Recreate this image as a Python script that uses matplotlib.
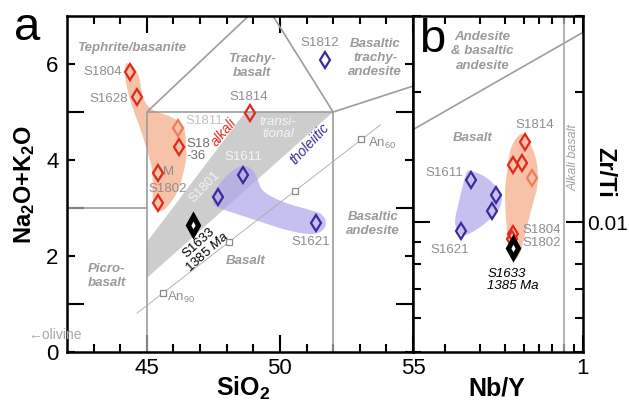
import numpy as np
import matplotlib
matplotlib.use('Agg')
import matplotlib.pyplot as plt
from matplotlib.ticker import FixedLocator, NullFormatter, FixedFormatter

plt.rcParams['font.family'] = ['Liberation Sans', 'DejaVu Sans']
plt.rcParams['mathtext.fontset'] = 'custom'
plt.rcParams['mathtext.rm'] = 'Liberation Sans'
plt.rcParams['mathtext.bf'] = 'Liberation Sans:bold'
plt.rcParams['mathtext.it'] = 'Liberation Sans:italic'

# ---------------- data: panel a (TAS) ----------------
alk_names = ['S1804', 'S1628', 'S1811', 'S18-36', 'M', 'S1802', 'S1814']
alk_sio2 = [44.37, 44.63, 46.17, 46.21, 45.42, 45.42, 48.88]
alk_total = [5.83, 5.31, 4.67, 4.27, 3.73, 3.10, 4.98]
alk_light = [False, False, True, False, False, False, False]

tho_names = ['S1611', 'S1801', 'S1621', 'S1812']
tho_sio2 = [48.62, 47.68, 51.36, 51.70]
tho_total = [3.69, 3.23, 2.69, 6.08]

s1633_sio2 = [46.74]
s1633_total = [2.65]

an_sio2 = [45.61, 48.09, 50.57, 53.05]
an_total = [1.23, 2.29, 3.35, 4.44]
an_line_sio2 = [44.63, 53.77]
an_line_total = [0.81, 4.73]

# TAS field boundaries
tas_lines = [
    ([42, 45], [3, 3]),
    ([45, 45], [0, 5]),
    ([45, 52], [5, 5]),
    ([52, 52], [0, 5]),
    ([45, 48.82], [5, 7]),
    ([52, 49.74], [5, 7]),
    ([52, 55], [5, 5.54]),
]
transitional_band = ([45, 48.7, 52, 45], [2.29, 5.0, 5.0, 1.54])

alk_field_sio2 = [44.26, 44.71, 44.82, 45.12, 45.98, 46.44, 46.47, 46.51, 46.25, 45.98,
                  45.68, 45.42, 45.2, 45.23, 45.0, 44.74, 44.44, 44.18, 44.18]
alk_field_total = [6.04, 5.83, 5.31, 5.04, 4.90, 4.69, 4.27, 4.06, 3.44, 3.17,
                   2.96, 2.92, 3.10, 3.79, 4.21, 4.69, 5.10, 5.67, 5.98]
tho_field_sio2 = [47.45, 47.68, 48.13, 48.58, 48.95, 49.18, 49.33, 50.20, 51.14, 51.59,
                  51.77, 51.59, 51.14, 50.20, 49.07, 48.13, 47.56]
tho_field_total = [3.17, 3.48, 3.75, 3.90, 3.83, 3.58, 3.33, 3.10, 2.96, 2.88,
                   2.69, 2.50, 2.44, 2.54, 2.75, 2.92, 3.02]

# ---------------- data: panel b (Zr/Ti vs Nb/Y) ----------------
b_alk_nby = [0.506, 0.439, 0.489, 0.549, 0.439, 0.434]
b_alk_zrti = [0.01535, 0.01357, 0.01372, 0.01266, 0.00938, 0.00913]
b_alk_light = [False, False, False, True, False, False]
b_tho_nby = [0.271, 0.360, 0.347, 0.241]
b_tho_zrti = [0.01252, 0.01156, 0.01061, 0.00953]
b_s1633_nby = [0.439]
b_s1633_zrti = [0.0087]

b_boundary_nby = [0.137, 1.0]
b_boundary_zrti = [0.01637, 0.0275]
b_alkali_nby = 0.80

b_alk_field_nby = [0.506, 0.589, 0.589, 0.569, 0.518, 0.477, 0.434, 0.409, 0.400, 0.409, 0.424, 0.461]
b_alk_field_zrti = [0.0162, 0.01394, 0.01206, 0.01143, 0.00974, 0.00829, 0.00807, 0.00958,
                    0.01187, 0.01273, 0.0147, 0.01577]
b_tho_field_nby = [0.265, 0.3237, 0.3772, 0.391, 0.377, 0.335, 0.288, 0.244, 0.2276, 0.2223,
                   0.2357, 0.244, 0.256]
b_tho_field_zrti = [0.01321, 0.01273, 0.01187, 0.01143, 0.01066, 0.01011, 0.00958, 0.00923,
                    0.00958, 0.01011, 0.01125, 0.01206, 0.01307]

# ---------------- styling ----------------
RED = '#e1281c'
SALMON = '#f27c58'
BLUE = '#3a2a9c'
PEACH = '#f6c2a8'
LAV = '#aea6ea'
BAND = '#cdcdcd'
FIELD_TXT = '#9a9a9a'
LINE = '#9c9c9c'
LBL = '#8e8e8e'


def chaikin(x, y, n=4):
    p = np.column_stack([x, y]).astype(float)
    for _ in range(n):
        q = np.roll(p, -1, axis=0)
        new = np.empty((2 * len(p), 2))
        new[0::2] = 0.75 * p + 0.25 * q
        new[1::2] = 0.25 * p + 0.75 * q
        p = new
    return p[:, 0], p[:, 1]


fig = plt.figure(figsize=(6.29, 4.03), dpi=100)
W, H = 629, 403
axa = fig.add_axes([67 / W, 51 / H, 346 / W, 336 / H])
axb = fig.add_axes([413 / W, 51 / H, 170 / W, 336 / H])

# ---------------- panel a ----------------
axa.set_xlim(42, 55)
axa.set_ylim(0, 7)
axa.fill(*transitional_band, color=BAND, lw=0, zorder=1)
fx, fy = chaikin(alk_field_sio2, alk_field_total)
axa.fill(fx, fy, color=PEACH, lw=0, zorder=1.5)
fx, fy = chaikin(tho_field_sio2, tho_field_total)
axa.fill(fx, fy, color=LAV, alpha=0.7, lw=0, zorder=1.6)
for xs, ys in tas_lines:
    axa.plot(xs, ys, color=LINE, lw=1.2, zorder=2, solid_capstyle='butt')
axa.plot(an_line_sio2, an_line_total, color='#a8a8a8', lw=0.6, zorder=2)
axa.plot(an_sio2, an_total, 's', ms=4.8, mfc='white', mec='#8a8a8a', mew=0.9, zorder=3)

MS = 8.0
for x, y, lt in zip(alk_sio2, alk_total, alk_light):
    axa.plot(x, y, 'd', ms=MS, mfc='none', mec=SALMON if lt else RED, mew=1.6, zorder=5)
axa.plot(tho_sio2, tho_total, 'd', ms=MS, mfc='none', mec=BLUE, mew=1.6, ls='none', zorder=5)
axa.plot(s1633_sio2, s1633_total, 'd', ms=MS + 1, mfc='white', mec='black', mew=3.6, ls='none', zorder=6)

fkw = dict(color=FIELD_TXT, fontsize=9.5, fontweight='bold', style='italic', ha='center', va='center',
           linespacing=1.25, zorder=4)
axa.text(44.44, 6.33, 'Tephrite/basanite', **fkw)
axa.text(48.95, 5.96, 'Trachy-\nbasalt', **fkw)
axa.text(53.58, 6.13, 'Basaltic\ntrachy-\nandesite', **fkw)
axa.text(48.73, 1.90, 'Basalt', **fkw)
axa.text(43.5, 1.58, 'Picro-\nbasalt', **fkw)
axa.text(53.5, 2.67, 'Basaltic\nandesite', **fkw)
axa.text(41.55, 0.36, '\u2190olivine', color='#a6a6a6', fontsize=10, ha='center', va='center', clip_on=False)

axa.text(49.93, 4.67, 'transi-\ntional', color='#f4f4f4', fontsize=9.5, style='italic', ha='center',
         va='center', linespacing=1.05, zorder=4)
axa.text(47.9, 4.58, 'alkali', color=RED, fontsize=10, style='italic', rotation=50, ha='center',
         va='center', rotation_mode='anchor', zorder=4)
axa.text(51.1, 4.33, 'tholeiitic', color=BLUE, fontsize=10, style='italic', rotation=47, ha='center',
         va='center', rotation_mode='anchor', zorder=4)
axa.text(47.19, 3.44, 'S1801', color='#f4f4f4', fontsize=9.5, rotation=46, ha='center', va='center',
         rotation_mode='anchor', zorder=4)
axa.text(47.1, 2.17, 'S1633\n$\\mathit{1385\\ Ma}$', color='black', fontsize=9.5, rotation=42, ha='center',
         va='center', rotation_mode='anchor', linespacing=0.95, zorder=6)

skw = dict(color=LBL, fontsize=9.5, va='center', zorder=4)
axa.text(44.07, 5.83, 'S1804', ha='right', **skw)
axa.text(44.29, 5.27, 'S1628', ha='right', **skw)
axa.text(46.44, 4.81, 'S1811', ha='left', color='#c2c2c2', fontsize=9.5, va='center', zorder=4)
axa.text(46.47, 4.21, 'S18\n-36', ha='left', color='#707070', fontsize=9.5, va='center', linespacing=1.0, zorder=4)
axa.text(45.6, 3.75, 'M', ha='left', **skw)
axa.text(45.8, 3.40, 'S1802', ha='center', **skw)
axa.text(48.84, 5.31, 'S1814', ha='center', **skw)
axa.text(48.62, 4.06, 'S1611', ha='center', color='#f4f4f4', fontsize=9.5, va='center', zorder=4)
axa.text(51.17, 2.29, 'S1621', ha='center', **skw)
axa.text(51.5, 6.44, 'S1812', ha='center', **skw)
axa.text(45.76, 1.13, 'An$_{90}$', ha='left', **skw)
axa.text(53.32, 4.35, 'An$_{60}$', ha='left', **skw)

axa.xaxis.set_major_locator(FixedLocator([45, 50, 55]))
axa.xaxis.set_minor_locator(FixedLocator([43, 44, 46, 47, 48, 49, 51, 52, 53, 54]))
axa.yaxis.set_major_locator(FixedLocator([0, 2, 4, 6]))
axa.yaxis.set_minor_locator(FixedLocator([1, 3, 5]))
axa.tick_params(axis='both', which='both', direction='in', top=True, right=True, width=1.5,
                labelsize=16, pad=4)
axa.tick_params(axis='x', which='major', length=12)
axa.tick_params(axis='x', which='minor', length=6)
axa.tick_params(axis='y', which='major', length=6, pad=6)
axa.tick_params(axis='y', which='minor', length=12)
for s in axa.spines.values():
    s.set_linewidth(1.8)

# ---------------- panel b ----------------
axb.set_xscale('log')
axb.set_yscale('log')
axb.set_xlim(0.137, 1.0)
axb.set_ylim(0.005, 0.03)
fx, fy = chaikin(np.log10(b_alk_field_nby), np.log10(b_alk_field_zrti))
axb.fill(10 ** fx, 10 ** fy, color=PEACH, lw=0, zorder=1.5)
fx, fy = chaikin(np.log10(b_tho_field_nby), np.log10(b_tho_field_zrti))
axb.fill(10 ** fx, 10 ** fy, color=LAV, alpha=0.7, lw=0, zorder=1.6)
axb.plot(b_boundary_nby, b_boundary_zrti, color=LINE, lw=1.2, zorder=2)
axb.axvline(b_alkali_nby, color='#a8a8a8', lw=1.2, zorder=2)

for x, y, lt in zip(b_alk_nby, b_alk_zrti, b_alk_light):
    axb.plot(x, y, 'd', ms=MS, mfc='none', mec=SALMON if lt else RED, mew=1.6, zorder=5)
axb.plot(b_tho_nby, b_tho_zrti, 'd', ms=MS, mfc='none', mec=BLUE, mew=1.6, ls='none', zorder=5)
axb.plot(b_s1633_nby, b_s1633_zrti, 'd', ms=MS + 1, mfc='white', mec='black', mew=3.6, ls='none', zorder=6)

axb.text(0.309, 0.02485, 'Andesite\n& basaltic\nandesite', **fkw)
axb.text(0.275, 0.01567, 'Basalt', **fkw)
axb.text(0.90, 0.01409, 'Alkali basalt', color='#a0a0a0', fontsize=9, style='italic', rotation=90,
         ha='center', va='center', zorder=4)
axb.text(0.569, 0.01681, 'S1814', ha='center', **skw)
axb.text(0.1977, 0.0130, 'S1611', ha='center', **skw)
axb.text(0.2097, 0.00861, 'S1621', ha='center', **skw)
axb.text(0.494, 0.00958, 'S1804', ha='left', **skw)
axb.text(0.494, 0.00894, 'S1802', ha='left', **skw)
axb.text(0.327, 0.00733, 'S1633\n1385 Ma', color='black', fontsize=9.5, style='italic', ha='left',
         va='center', linespacing=1.0, zorder=6)

axb.xaxis.set_major_locator(FixedLocator([1.0]))
axb.xaxis.set_major_formatter(FixedFormatter(['1']))
axb.xaxis.set_minor_locator(FixedLocator([0.2, 0.3, 0.4, 0.5, 0.6, 0.7, 0.8, 0.9]))
axb.xaxis.set_minor_formatter(NullFormatter())
axb.yaxis.set_major_locator(FixedLocator([0.01]))
axb.yaxis.set_major_formatter(FixedFormatter(['0.01']))
axb.yaxis.set_minor_locator(FixedLocator([0.005, 0.006, 0.007, 0.008, 0.009, 0.02, 0.03]))
axb.yaxis.set_minor_formatter(NullFormatter())
axb.tick_params(axis='both', which='both', direction='in', top=True, right=True, left=True,
                labelleft=False, labelright=True, width=1.5, labelsize=16, pad=4)
axb.tick_params(axis='both', which='major', length=12)
axb.tick_params(axis='both', which='minor', length=6)
axb.tick_params(axis='y', which='major', pad=3, labelsize=15)
for s in axb.spines.values():
    s.set_linewidth(1.8)

# ---------------- labels ----------------
fig.text(25 / W, 1 - 185 / H, r'$\mathbf{Na_2O{+}K_2O}$', rotation=90, ha='center', va='center', fontsize=17)
fig.text(243 / W, 1 - 388 / H, r'$\mathbf{SiO_2}$', ha='center', va='center', fontsize=18)
fig.text(497 / W, 1 - 388 / H, 'Nb/Y', ha='center', va='center', fontsize=18, fontweight='bold')
fig.text(605 / W, 1 - 172 / H, 'Zr/Ti', rotation=270, ha='center', va='center', fontsize=17, fontweight='bold')
fig.text(27 / W, 1 - 28 / H, 'a', ha='center', va='center', fontsize=34)
fig.text(432 / W, 1 - 40 / H, 'b', ha='center', va='center', fontsize=34)

fig.savefig('out.png', dpi=100)
